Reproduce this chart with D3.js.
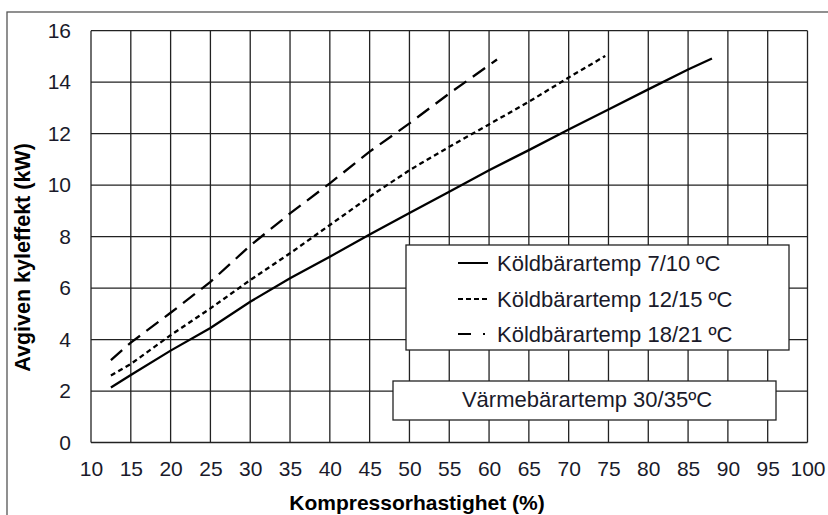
<!DOCTYPE html>
<html><head><meta charset="utf-8">
<script src="https://cdn.jsdelivr.net/npm/d3@7"></script>
<style>body{margin:0;background:#fff}svg{display:block}text{font-family:"Liberation Sans",Arial,sans-serif}</style>
</head><body>
<script>
const xTicks = [10,15,20,25,30,35,40,45,50,55,60,65,70,75,80,85,90,95,100];
const yTicks = [0,2,4,6,8,10,12,14,16];
const seriesNames = ["Köldbärartemp 7/10 ºC","Köldbärartemp 12/15 ºC","Köldbärartemp 18/21 ºC"];
const s1x = [12.5,15,20,25,30,35,40,45,50,55,60,65,70,75,80,85,88];
const s1y = [2.14,2.62,3.57,4.45,5.47,6.38,7.22,8.08,8.92,9.74,10.58,11.36,12.16,12.94,13.72,14.49,14.92];
const s2x = [12.5,15,20,25,30,35,40,45,50,55,60,65,70,74.6];
const s2y = [2.6,3.05,4.17,5.21,6.31,7.35,8.45,9.55,10.58,11.49,12.36,13.24,14.18,15.02];
const s3x = [12.5,15,20,25,30,35,40,45,50,55,61];
const s3y = [3.2,3.88,5.04,6.24,7.65,8.9,10.07,11.3,12.4,13.56,14.88];
const noteText = "Värmebärartemp 30/35ºC";
const xTitle = "Kompressorhastighet (%)";
const yTitle = "Avgiven kyleffekt (kW)";

const W=828,H=515;
const svg=d3.select("body").append("svg").attr("width",W).attr("height",H);
const L=91,R=807.5,T=30.7,B=442.5;
const x=d3.scaleLinear().domain([10,100]).range([L,R]);
const y=d3.scaleLinear().domain([0,16]).range([B,T]);

// outer frame
svg.append("rect").attr("x",7).attr("y",12).attr("width",W).attr("height",H)
  .attr("fill","none").attr("stroke","#555").attr("stroke-width",1.3);

// grid
const g=svg.append("g");
g.selectAll(".vx").data(xTicks).enter().append("line")
  .attr("x1",d=>x(d)).attr("x2",d=>x(d)).attr("y1",T).attr("y2",B)
  .attr("stroke","#222").attr("stroke-width",1.3);
g.selectAll(".hy").data(yTicks).enter().append("line")
  .attr("x1",L).attr("x2",R).attr("y1",d=>y(d)).attr("y2",d=>y(d))
  .attr("stroke","#222").attr("stroke-width",1.3);

// axes labels via d3 axes
const xa=svg.append("g").attr("transform",`translate(0,${B})`)
  .call(d3.axisBottom(x).tickValues(xTicks).tickSize(0).tickPadding(19).tickFormat(d3.format("d")));
xa.select(".domain").remove();
xa.selectAll("text").attr("font-size",21).attr("fill","#1a1a2a").attr("font-family","Liberation Sans, Arial, sans-serif");
const ya=svg.append("g").attr("transform",`translate(${L},0)`)
  .call(d3.axisLeft(y).tickValues(yTicks).tickSize(0).tickPadding(20).tickFormat(d3.format("d")));
ya.select(".domain").remove();
ya.selectAll("text").attr("font-size",21).attr("fill","#1a1a2a").attr("font-family","Liberation Sans, Arial, sans-serif");

// series
const line=d3.line().x(d=>x(d[0])).y(d=>y(d[1]));
const dashes=[null,"5,3.5","15,8"];
const data=[d3.zip(s1x,s1y),d3.zip(s2x,s2y),d3.zip(s3x,s3y)];
data.forEach((d,i)=>{
  svg.append("path").attr("d",line(d)).attr("fill","none").attr("stroke","#000")
    .attr("stroke-width",2.3).attr("stroke-dasharray",dashes[i]);
});

// legend box
svg.append("rect").attr("x",406).attr("y",245).attr("width",383).attr("height",105)
  .attr("fill","#fff").attr("stroke","#222").attr("stroke-width",1.3);
const legDash=[null,"5,3","13,12,2,20"];
const rows=[263,299,334];
seriesNames.forEach((n,i)=>{
  svg.append("line").attr("x1",458).attr("x2",488).attr("y1",rows[i]).attr("y2",rows[i])
    .attr("stroke","#000").attr("stroke-width",2).attr("stroke-dasharray",legDash[i]);
  svg.append("text").attr("x",497).attr("y",rows[i]+8).attr("font-size",22).attr("fill","#1a1a2a").text(n);
});

// note box
svg.append("rect").attr("x",393).attr("y",381).attr("width",383).attr("height",39)
  .attr("fill","#fff").attr("stroke","#222").attr("stroke-width",1.3);
svg.append("text").attr("x",587).attr("y",406.5).attr("text-anchor","middle").attr("font-size",22).attr("fill","#1a1a2a").text(noteText);

// titles
svg.append("text").attr("x",417).attr("y",510).attr("text-anchor","middle").attr("font-size",21)
  .attr("font-weight","bold").attr("fill","#000").text(xTitle);
svg.append("text").attr("transform","translate(30,257.5) rotate(-90)").attr("text-anchor","middle")
  .attr("font-size",21.5).attr("font-weight","bold").attr("fill","#000").text(yTitle);
</script>
</body></html>
